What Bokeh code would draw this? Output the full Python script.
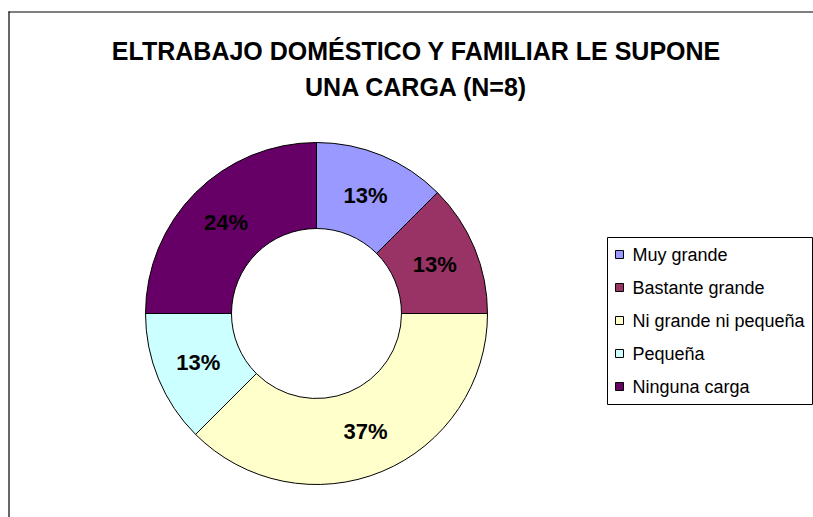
import numpy as np
from bokeh.plotting import figure
from bokeh.models import Range1d, ColumnDataSource
from bokeh.core.properties import value
from bokeh.embed import file_html
from bokeh.resources import INLINE

# ---- data ----
categories = ["Muy grande", "Bastante grande", "Ni grande ni pequeña", "Pequeña", "Ninguna carga"]
counts = [1, 1, 3, 1, 2]          # N = 8
pct_labels = ["13%", "13%", "37%", "13%", "24%"]
colors = ["#9999FF", "#993366", "#FFFFCC", "#CCFFFF", "#660066"]
title_lines = ["ELTRABAJO DOMÉSTICO Y FAMILIAR LE SUPONE", "UNA CARGA (N=8)"]

W, H = 813, 517


def X(px):
    return px


def Y(py):
    return H - py


p = figure(width=W, height=H, output_backend="svg", toolbar_location=None,
           x_range=Range1d(0, W), y_range=Range1d(0, H), min_border=0)
p.axis.visible = False
p.grid.visible = False
p.outline_line_color = None
p.background_fill_color = "white"
p.border_fill_color = "white"

# chart area border (left and top visible)
p.line(x=[X(8.5), X(8.5)], y=[Y(11), Y(600)], line_color="#000000", line_width=1.2)
p.line(x=[X(8), X(900)], y=[Y(11.5), Y(11.5)], line_color="#000000", line_width=1.2)

# ---- donut ----
cx, cy = X(316), Y(313)
r_in, r_out = 85, 171
total = float(sum(counts))
fr = np.array(counts) / total
cum = np.concatenate([[0], np.cumsum(fr)])
start = np.pi / 2 - 2 * np.pi * cum[:-1]
end = np.pi / 2 - 2 * np.pi * cum[1:]
mid = (start + end) / 2
r_lab = (r_in + r_out) / 2

src = ColumnDataSource(dict(start=start, end=end, color=colors, cat=categories,
                            lx=cx + r_lab * np.cos(mid), ly=cy + r_lab * np.sin(mid),
                            lab=pct_labels))
p.annular_wedge(x=cx, y=cy, inner_radius=r_in, outer_radius=r_out,
                start_angle="start", end_angle="end", direction="clock",
                fill_color="color", line_color="black", line_width=1, source=src)
p.text(x="lx", y="ly", text="lab", source=src, text_align="center", text_baseline="middle",
       text_font=value("Liberation Sans"), text_font_style="bold", text_font_size="22px",
       text_color="black")

# ---- title ----
p.text(x=[X(416), X(416)], y=[Y(50), Y(86)], text=title_lines,
       text_align="center", text_baseline="middle",
       text_font=value("Liberation Sans"), text_font_style="bold", text_font_size="25px",
       text_color="black")

# ---- legend ----
p.quad(left=[X(607)], right=[X(812)], top=[Y(237)], bottom=[Y(404)],
       fill_color=None, line_color="black", line_width=1)
ly = [Y(254 + 33 * i) for i in range(len(categories))]
p.rect(x=[X(619)] * len(categories), y=ly, width=8, height=8,
       fill_color=colors, line_color="black", line_width=1)
p.text(x=[X(632)] * len(categories), y=ly, text=categories,
       text_align="left", text_baseline="middle",
       text_font=value("Liberation Sans"), text_font_size="18px", text_color="black")

open("out.html", "w").write(file_html(p, INLINE))
